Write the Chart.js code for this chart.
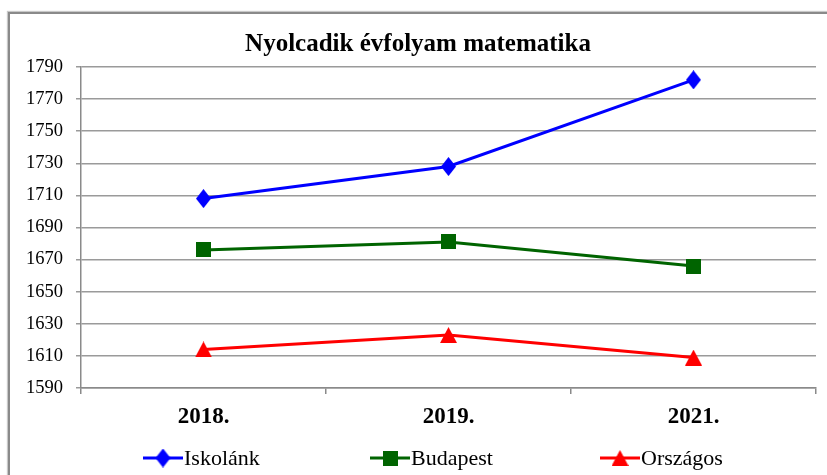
<!DOCTYPE html>
<html lang="hu">
<head>
<meta charset="utf-8">
<title>Nyolcadik évfolyam matematika</title>
<script src="https://cdn.jsdelivr.net/npm/chart.js@4.4.1/dist/chart.umd.min.js"></script>
<style>
  html, body { margin: 0; padding: 0; background: #fff; overflow: hidden; }
  #frame {
    position: absolute; left: 8px; top: 12px; width: 900px; height: 520px;
    border-left: 2px solid #8a8a8a; border-top: 2px solid #8a8a8a;
    box-shadow: -1px -1px 1px #c8c8c8;
  }
  #chart { position: absolute; left: 0; top: 0; }
</style>
</head>
<body>
<div id="frame"></div>
<canvas id="chart" width="827" height="475"></canvas>
<script>
// years on the x axis
const years = ['2018.', '2019.', '2021.'];

// average scores per series
const iskolank = [1708, 1728, 1782];
const budapest = [1676, 1681, 1666];
const orszagos = [1614, 1623, 1609];

const seriesNames = ['Iskolánk', 'Budapest', 'Országos'];

// y axis range and step
const yMin = 1590;
const yMax = 1790;
const yStep = 20;

const serif = "'Liberation Serif', 'Times New Roman', serif";

// small canvases used as marker images
function makeMarker(shape, color) {
    const sizes = { diamond: [15, 19], square: [15, 15], triangle: [17, 16] };
    const [w, h] = sizes[shape];
    const c = document.createElement('canvas');
    c.width = w;
    c.height = h;
    const g = c.getContext('2d');
    g.fillStyle = color;
    g.beginPath();
    if (shape === 'diamond') {
        g.moveTo(w / 2, 0);
        g.lineTo(w, h / 2);
        g.lineTo(w / 2, h);
        g.lineTo(0, h / 2);
    } else if (shape === 'square') {
        g.rect(0, 0, w, h);
    } else {
        g.moveTo(w / 2, 0);
        g.lineTo(w, h);
        g.lineTo(0, h);
    }
    g.closePath();
    g.fill();
    return c;
}

const colors = ['#0000ff', '#006400', '#ff0000'];
const markers = [
    makeMarker('diamond', colors[0]),
    makeMarker('square', colors[1]),
    makeMarker('triangle', colors[2])
];

function series(i, data) {
    return {
        label: seriesNames[i],
        data: data,
        borderColor: colors[i],
        backgroundColor: colors[i],
        borderWidth: 3,
        tension: 0,
        pointStyle: markers[i],
        pointRadius: 8,
        pointHoverRadius: 8
    };
}

// legend drawn as line + marker + text under the axis
const lineLegend = {
    id: 'lineLegend',
    afterDraw(chart) {
        const ctx = chart.ctx;
        const xs = [163, 390, 620];
        const y = 458;
        ctx.save();
        chart.data.datasets.forEach((ds, i) => {
            const cx = xs[i];
            ctx.strokeStyle = ds.borderColor;
            ctx.lineWidth = 3;
            ctx.beginPath();
            ctx.moveTo(cx - 20, y);
            ctx.lineTo(cx + 20, y);
            ctx.stroke();
            const m = ds.pointStyle;
            ctx.drawImage(m, cx - m.width / 2, y - m.height / 2);
            ctx.fillStyle = '#000';
            ctx.font = '22px ' + serif;
            ctx.textAlign = 'left';
            ctx.textBaseline = 'middle';
            ctx.fillText(ds.label, cx + 21, y + 1);
        });
        ctx.restore();
    }
};

new Chart(document.getElementById('chart'), {
    type: 'line',
    data: {
        labels: years,
        datasets: [series(0, iskolank), series(1, budapest), series(2, orszagos)]
    },
    plugins: [lineLegend],
    options: {
        responsive: false,
        animation: false,
        layout: { padding: { left: 18, right: 9, top: 0, bottom: 37 } },
        plugins: {
            legend: { display: false },
            tooltip: { enabled: false },
            title: {
                display: true,
                text: 'Nyolcadik évfolyam matematika',
                color: '#000',
                font: { family: serif, size: 25, weight: 'bold' },
                padding: { top: 30, bottom: 7 }
            }
        },
        scales: {
            x: {
                offset: true,
                grid: {
                    offset: true,
                    drawOnChartArea: false,
                    drawTicks: true,
                    tickLength: 6,
                    color: '#8a8a8a',
                    lineWidth: 1.5
                },
                border: { color: '#8a8a8a', width: 1.5 },
                ticks: {
                    color: '#000',
                    padding: 9,
                    font: { family: serif, size: 23, weight: 'bold' }
                },
                afterFit: (scale) => { scale.height = 50; }
            },
            y: {
                min: yMin,
                max: yMax,
                ticks: {
                    stepSize: yStep,
                    color: '#000',
                    padding: 13,
                    font: { family: serif, size: 18.5 },
                    callback: (value) => String(value)
                },
                grid: {
                    color: '#9a9a9a',
                    lineWidth: 1.5,
                    drawTicks: true,
                    tickLength: 5
                },
                border: { color: '#8a8a8a', width: 1.5 },
                afterFit: (scale) => { scale.width = 63; }
            }
        }
    }
});
</script>
</body>
</html>
